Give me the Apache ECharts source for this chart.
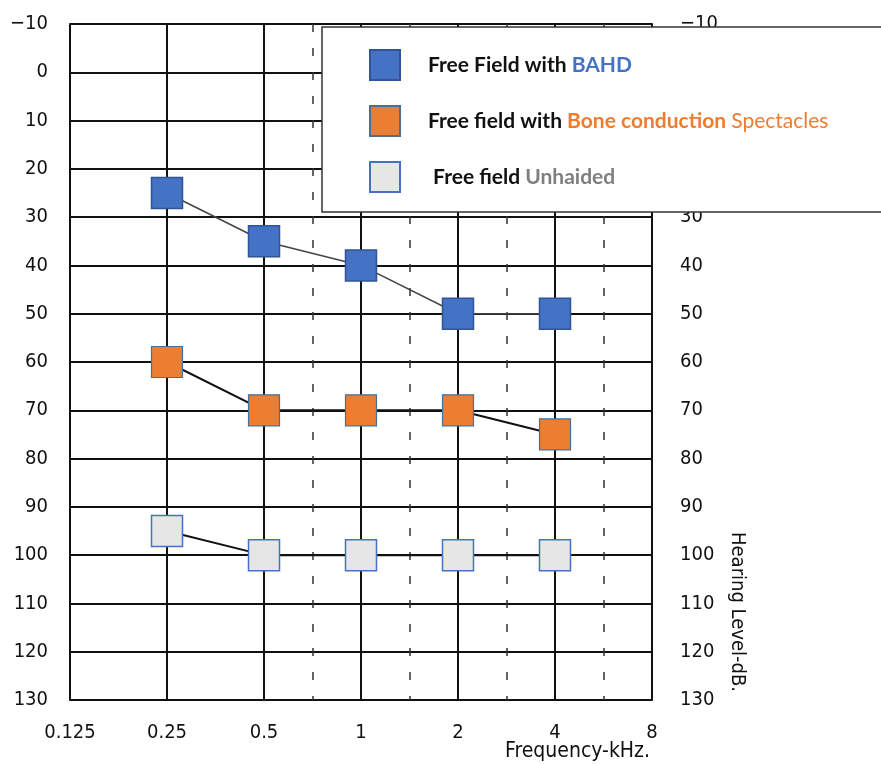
<!DOCTYPE html>
<html>
<head>
<meta charset="utf-8">
<script src="https://cdn.jsdelivr.net/npm/echarts@6/dist/echarts.min.js"></script>
<style>
html,body{margin:0;padding:0;background:#fff;}
#chart{width:881px;height:765px;}
</style>
</head>
<body>
<div id="chart"></div>
<script>
const freqLabels = ['0.125', '0.25', '0.5', '1', '2', '4', '8'];
const yTicks = [-10, 0, 10, 20, 30, 40, 50, 60, 70, 80, 90, 100, 110, 120, 130];
const seriesFreqs = ['0.25', '0.5', '1', '2', '4'];
const bahd = [25, 35, 40, 50, 50];
const boneSpectacles = [60, 70, 70, 70, 75];
const unaided = [95, 100, 100, 100, 100];
const dashedBetween = [2.5, 3.5, 4.5, 5.5];

const axisFont = '"Liberation Sans Narrow","DejaVu Sans Condensed","Liberation Sans",sans-serif';
const legendFont = 'Lato, "Open Sans", sans-serif';

function toPts(vals) {
  return vals.map((v, i) => [freqLabels.indexOf(seriesFreqs[i]), v]);
}
const names = ['Free Field with BAHD', 'Free field with Bone conduction Spectacles', 'Free field Unhaided'];
const fmtY = v => (v < 0 ? '\u2212' + Math.abs(v) : String(v));

const chart = echarts.init(document.getElementById('chart'));
chart.setOption({
  animation: false,
  backgroundColor: '#fff',
  grid: { left: 70, right: 229, top: 24, bottom: 65, containLabel: false },
  xAxis: {
    type: 'value', min: 0, max: 6, interval: 1,
    axisLine: { show: true, lineStyle: { color: '#111', width: 2 } },
    axisTick: { show: false },
    splitLine: { show: true, lineStyle: { color: '#111', width: 2 } },
    axisLabel: { margin: 23, fontSize: 20, color: '#111', fontFamily: axisFont,
      formatter: v => freqLabels[v] }
  },
  yAxis: [
    { type: 'value', inverse: true, min: -10, max: 130, interval: 10, position: 'left',
      axisLine: { show: true, lineStyle: { color: '#111', width: 2 } },
      axisTick: { show: false },
      splitLine: { show: true, lineStyle: { color: '#111', width: 2 } },
      axisLabel: { margin: 22, fontSize: 20, color: '#111', fontFamily: axisFont, formatter: fmtY } },
    { type: 'value', inverse: true, min: -10, max: 130, interval: 10, position: 'right',
      axisLine: { show: true, lineStyle: { color: '#111', width: 2 } },
      axisTick: { show: false },
      splitLine: { show: false },
      axisLabel: { margin: 28, fontSize: 20, color: '#111', fontFamily: axisFont, formatter: fmtY } }
  ],
  legend: {
    orient: 'vertical', left: 322, top: 27, z: 20,
    padding: [22, 160, 19, 47],
    itemGap: 24, itemWidth: 30, itemHeight: 30,
    icon: 'rect',
    backgroundColor: '#fff', borderColor: '#333', borderWidth: 1.5,
    data: names,
    formatter: function (name) {
      if (name === names[0]) return '{k|Free Field with }{b|BAHD}';
      if (name === names[1]) return '{k|Free field with }{o|Bone conduction }{on|Spectacles}';
      return '{k| Free field }{g|Unhaided}';
    },
    textStyle: {
      padding: [0, 0, 0, 23],
      rich: {
        k: { color: '#111', fontWeight: 'bold', fontSize: 21, fontFamily: legendFont },
        b: { color: '#4472C4', fontWeight: 'bold', fontSize: 21, fontFamily: legendFont },
        o: { color: '#ED7D31', fontWeight: 'bold', fontSize: 21, fontFamily: legendFont },
        on: { color: '#ED7D31', fontWeight: 'normal', fontSize: 21, fontFamily: legendFont },
        g: { color: '#7F7F7F', fontWeight: 'bold', fontSize: 21, fontFamily: legendFont }
      }
    }
  },
  series: [
    { name: names[0], type: 'line', data: toPts(bahd), symbol: 'rect', symbolSize: 31,
      lineStyle: { color: '#444', width: 1.5 },
      itemStyle: { color: '#4472C4', borderColor: '#2F5597', borderWidth: 1.5 }, z: 2,
      markLine: { silent: true, symbol: 'none', label: { show: false }, z: 1,
        lineStyle: { color: '#333', type: [8, 16], width: 1.5 },
        data: dashedBetween.map(x => ({ xAxis: x })) } },
    { name: names[1], type: 'line', data: toPts(boneSpectacles), symbol: 'rect', symbolSize: 31,
      lineStyle: { color: '#111', width: 2 },
      itemStyle: { color: '#ED7D31', borderColor: '#41719C', borderWidth: 1.2 }, z: 2 },
    { name: names[2], type: 'line', data: toPts(unaided), symbol: 'rect', symbolSize: 31,
      lineStyle: { color: '#111', width: 2 },
      itemStyle: { color: '#E7E6E6', borderColor: '#4472C4', borderWidth: 1.5 }, z: 2 }
  ],
  graphic: [
    { type: 'text', x: 737, y: 612, rotation: -Math.PI / 2,
      style: { text: 'Hearing Level-dB.', fill: '#111', font: '20px ' + axisFont,
        align: 'center', verticalAlign: 'middle' } },
    { type: 'text', x: 650, y: 752,
      style: { text: 'Frequency-kHz.', fill: '#111', font: '21px ' + axisFont,
        align: 'right', verticalAlign: 'middle' } }
  ]
});
</script>
</body>
</html>
